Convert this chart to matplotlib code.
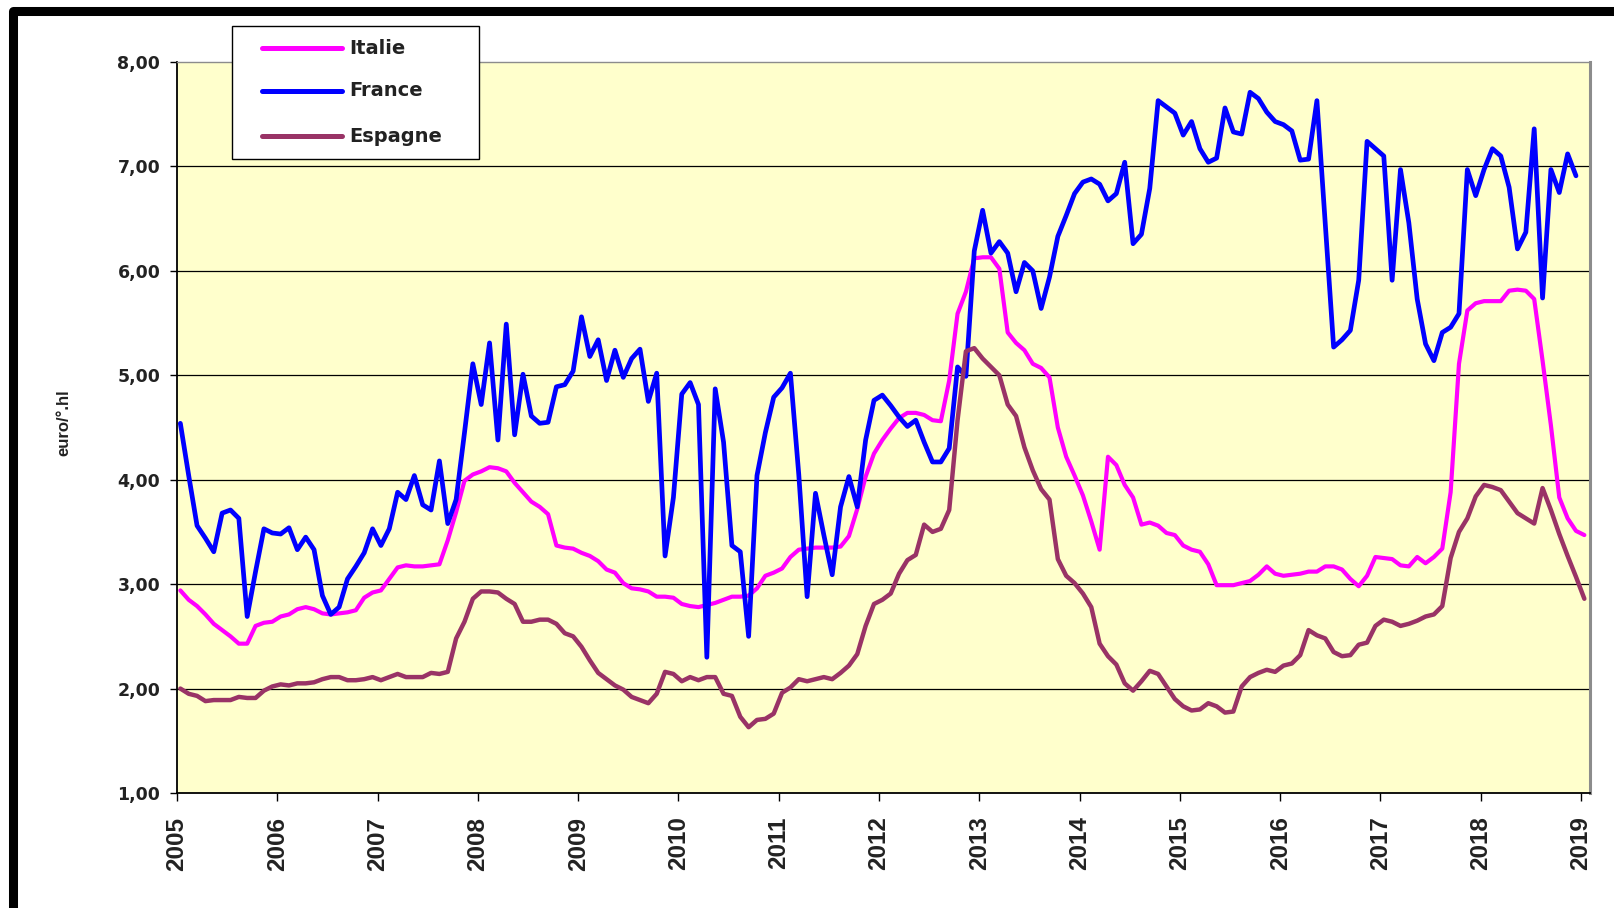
import matplotlib
matplotlib.use("Agg")
import matplotlib.pyplot as plt
from matplotlib.patches import Rectangle
from matplotlib.lines import Line2D

# Monthly prices, euro/°.hl, from January 2005
france = [
    4.54, 4.04, 3.56, 3.44, 3.31, 3.68, 3.71, 3.63, 2.69, 3.12, 3.53, 3.49,   # 2005
    3.48, 3.54, 3.33, 3.45, 3.33, 2.89, 2.71, 2.78, 3.05, 3.17, 3.30, 3.53,   # 2006
    3.37, 3.53, 3.88, 3.81, 4.04, 3.76, 3.71, 4.18, 3.58, 3.81, 4.45, 5.11,   # 2007
    4.72, 5.31, 4.38, 5.49, 4.43, 5.01, 4.61, 4.54, 4.55, 4.89, 4.91, 5.04,   # 2008
    5.56, 5.18, 5.34, 4.95, 5.24, 4.98, 5.16, 5.25, 4.75, 5.02, 3.27, 3.83,   # 2009
    4.82, 4.93, 4.72, 2.30, 4.87, 4.36, 3.37, 3.31, 2.50, 4.04, 4.45, 4.79,   # 2010
    4.88, 5.02, 4.05, 2.88, 3.87, 3.47, 3.09, 3.74, 4.03, 3.74, 4.38, 4.76,   # 2011
    4.81, 4.71, 4.60, 4.51, 4.57, 4.36, 4.17, 4.17, 4.30, 5.08, 4.99, 6.19,   # 2012
    6.58, 6.17, 6.28, 6.17, 5.80, 6.08, 6.00, 5.64, 5.94, 6.33, 6.53, 6.74,   # 2013
    6.85, 6.88, 6.83, 6.67, 6.74, 7.04, 6.26, 6.35, 6.79, 7.63, 7.57, 7.51,   # 2014
    7.30, 7.43, 7.17, 7.04, 7.08, 7.56, 7.33, 7.31, 7.71, 7.65, 7.52, 7.43,   # 2015
    7.40, 7.34, 7.06, 7.07, 7.63, 6.45, 5.27, 5.34, 5.43, 5.91, 7.24, 7.17,   # 2016
    7.10, 5.91, 6.97, 6.46, 5.73, 5.30, 5.14, 5.41, 5.46, 5.59, 6.97, 6.72,   # 2017
    6.97, 7.17, 7.10, 6.80, 6.21, 6.37, 7.36, 5.74, 6.97, 6.75, 7.12, 6.91,   # 2018
]

italie = [
    2.94, 2.85, 2.79, 2.71, 2.62, 2.56, 2.50, 2.43, 2.43, 2.60, 2.63, 2.64,   # 2005
    2.69, 2.71, 2.76, 2.78, 2.76, 2.72, 2.71, 2.72, 2.73, 2.75, 2.87, 2.92,   # 2006
    2.94, 3.05, 3.16, 3.18, 3.17, 3.17, 3.18, 3.19, 3.42, 3.69, 3.99, 4.05,   # 2007
    4.08, 4.12, 4.11, 4.08, 3.97, 3.88, 3.79, 3.74, 3.67, 3.37, 3.35, 3.34,   # 2008
    3.30, 3.27, 3.22, 3.14, 3.11, 3.01, 2.96, 2.95, 2.93, 2.88, 2.88, 2.87,   # 2009
    2.81, 2.79, 2.78, 2.80, 2.82, 2.85, 2.88, 2.88, 2.89, 2.96, 3.08, 3.11,   # 2010
    3.15, 3.26, 3.33, 3.34, 3.35, 3.35, 3.35, 3.36, 3.46, 3.72, 4.03, 4.25,   # 2011
    4.38, 4.49, 4.59, 4.64, 4.64, 4.62, 4.57, 4.56, 4.95, 5.59, 5.80, 6.12,   # 2012
    6.13, 6.13, 6.02, 5.41, 5.31, 5.24, 5.11, 5.07, 4.98, 4.50, 4.22, 4.04,   # 2013
    3.85, 3.60, 3.33, 4.22, 4.14, 3.95, 3.83, 3.57, 3.59, 3.56, 3.49, 3.47,   # 2014
    3.37, 3.33, 3.31, 3.19, 2.99, 2.99, 2.99, 3.01, 3.03, 3.09, 3.17, 3.10,   # 2015
    3.08, 3.09, 3.10, 3.12, 3.12, 3.17, 3.17, 3.14, 3.05, 2.98, 3.08, 3.26,   # 2016
    3.25, 3.24, 3.18, 3.17, 3.26, 3.20, 3.26, 3.34, 3.88, 5.11, 5.62, 5.69,   # 2017
    5.71, 5.71, 5.71, 5.81, 5.82, 5.81, 5.73, 5.14, 4.52, 3.83, 3.63, 3.51,   # 2018
    3.47,                                                                     # 2019
]

espagne = [
    2.00, 1.95, 1.93, 1.88, 1.89, 1.89, 1.89, 1.92, 1.91, 1.91, 1.98, 2.02,   # 2005
    2.04, 2.03, 2.05, 2.05, 2.06, 2.09, 2.11, 2.11, 2.08, 2.08, 2.09, 2.11,   # 2006
    2.08, 2.11, 2.14, 2.11, 2.11, 2.11, 2.15, 2.14, 2.16, 2.48, 2.64, 2.86,   # 2007
    2.93, 2.93, 2.92, 2.86, 2.81, 2.64, 2.64, 2.66, 2.66, 2.62, 2.53, 2.50,   # 2008
    2.40, 2.27, 2.15, 2.09, 2.03, 1.99, 1.92, 1.89, 1.86, 1.95, 2.16, 2.14,   # 2009
    2.07, 2.11, 2.08, 2.11, 2.11, 1.95, 1.93, 1.73, 1.63, 1.70, 1.71, 1.76,   # 2010
    1.96, 2.01, 2.09, 2.07, 2.09, 2.11, 2.09, 2.15, 2.22, 2.33, 2.60, 2.81,   # 2011
    2.85, 2.91, 3.10, 3.23, 3.28, 3.57, 3.50, 3.53, 3.71, 4.57, 5.23, 5.26,   # 2012
    5.16, 5.08, 5.00, 4.72, 4.61, 4.31, 4.09, 3.91, 3.81, 3.24, 3.08, 3.01,   # 2013
    2.91, 2.78, 2.43, 2.31, 2.23, 2.05, 1.98, 2.07, 2.17, 2.14, 2.02, 1.90,   # 2014
    1.83, 1.79, 1.80, 1.86, 1.83, 1.77, 1.78, 2.02, 2.11, 2.15, 2.18, 2.16,   # 2015
    2.22, 2.24, 2.32, 2.56, 2.51, 2.48, 2.35, 2.31, 2.32, 2.42, 2.44, 2.60,   # 2016
    2.66, 2.64, 2.60, 2.62, 2.65, 2.69, 2.71, 2.79, 3.25, 3.50, 3.63, 3.84,   # 2017
    3.95, 3.93, 3.90, 3.79, 3.68, 3.63, 3.58, 3.92, 3.71, 3.48, 3.27, 3.07,   # 2018
    2.86,                                                                     # 2019
]

series_names = ["Italie", "France", "Espagne"]
series_colors = ["#FF00FF", "#0000FF", "#993366"]
year_ticks = list(range(2005, 2020))
year_labels = [str(y) for y in year_ticks]
value_ticks = [1, 2, 3, 4, 5, 6, 7, 8]
value_labels = ["1,00", "2,00", "3,00", "4,00", "5,00", "6,00", "7,00", "8,00"]
y_title = "euro/°.hl"

W, H = 1615, 908
fig = plt.figure(figsize=(W / 100, H / 100), dpi=100)
fig.patch.set_facecolor("white")

# plot area in pixel coordinates (left, top, right, bottom)
L, T, R, B = 177, 62, 1590, 793
ax = fig.add_axes([L / W, 1 - B / H, (R - L) / W, (B - T) / H])
ax.set_facecolor("#FFFFCC")


def month_x(n):
    return [2005 + (i + 0.4) / 12 for i in range(n)]


data = [italie, france, espagne]
widths = [3.0, 3.4, 3.2]
for vals, name, col, lw in zip(data, series_names, series_colors, widths):
    ax.plot(month_x(len(vals)), vals, color=col, lw=lw, label=name,
            solid_joinstyle="round", solid_capstyle="round", zorder=3)

ax.set_xlim(2005, 2019 + 9 / 100.3)
ax.set_ylim(1, 8)

ax.set_yticks(value_ticks)
ax.set_yticklabels(value_labels, fontfamily="DejaVu Sans", fontweight="bold",
                   fontsize=12.5, color="#222222")
ax.set_xticks(year_ticks)
ax.set_xticklabels(year_labels, rotation=90, fontfamily="Liberation Sans",
                   fontweight="bold", fontsize=17.5, color="#222222")
ax.tick_params(axis="y", direction="out", length=5, width=1.0, pad=7, color="black")
ax.tick_params(axis="x", direction="out", length=6, width=1.0, pad=11, color="black")

for yv in value_ticks[1:-1]:
    ax.axhline(yv, color="black", lw=0.9, zorder=1)

ax.spines["left"].set_color("black")
ax.spines["left"].set_linewidth(1.3)
ax.spines["bottom"].set_color("black")
ax.spines["bottom"].set_linewidth(1.3)
ax.spines["top"].set_color("#8c8c8c")
ax.spines["top"].set_linewidth(1.0)
ax.spines["right"].set_color("#8c8c8c")
ax.spines["right"].set_linewidth(2.2)

fig.text(64 / W, 1 - 423 / H, y_title, rotation=90, ha="center", va="center",
         fontfamily="Liberation Sans", fontweight="bold", fontsize=12, color="#222222")

# legend box
lx0, ly0, lx1, ly1 = 232, 26, 479, 159
fig.add_artist(Rectangle((lx0 / W, 1 - ly1 / H), (lx1 - lx0) / W, (ly1 - ly0) / H,
                         transform=fig.transFigure, facecolor="white",
                         edgecolor="black", lw=1.0, zorder=5))
handles, labels = ax.get_legend_handles_labels()
rows = [48, 91, 136]
for h, lab, ry in zip(handles, labels, rows):
    fig.add_artist(Line2D([262 / W, 342 / W], [1 - ry / H, 1 - ry / H],
                          transform=fig.transFigure, color=h.get_color(), lw=3.6,
                          solid_capstyle="round", zorder=6))
    fig.text(349 / W, 1 - ry / H, lab, ha="left", va="center",
             fontfamily="DejaVu Sans", fontweight="bold", fontsize=14,
             color="#222222", zorder=6)

# heavy outer frame
fig.add_artist(Rectangle((13 / W, -2 / H), (1660 - 13) / W, (910 - 11) / H,
                         transform=fig.transFigure, facecolor="none",
                         edgecolor="black", lw=6.5, joinstyle="round", zorder=0))

fig.savefig("out.png", dpi=100, facecolor="white")
